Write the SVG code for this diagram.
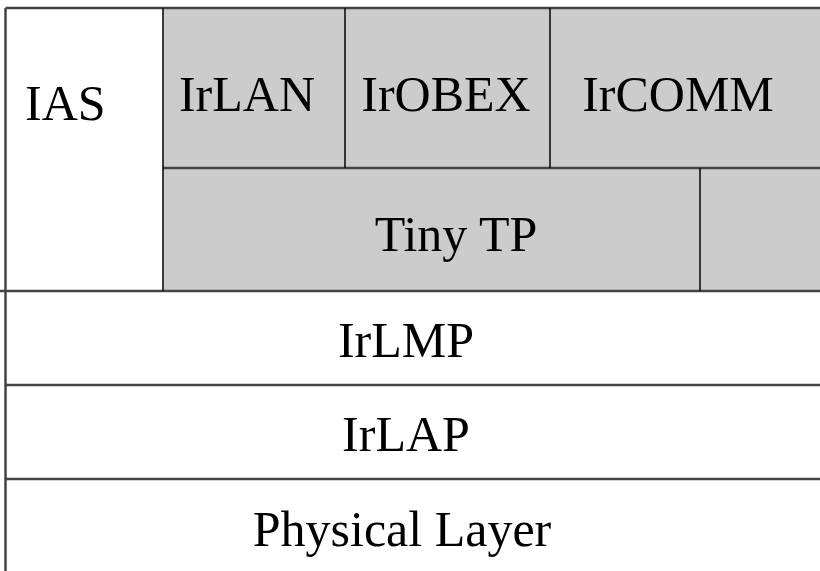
<svg xmlns="http://www.w3.org/2000/svg" width="820" height="571" viewBox="0 0 820 571">
  <style>
    .lbl { font-family: "Liberation Serif", "Times New Roman", serif; font-size: 50px; fill: #000; }
    .mid { text-anchor: middle; }
    .shade { fill: #cccccc; }
    .hline { stroke: #444; stroke-width: 2.5; fill: none; }
    .vline { stroke: #111; stroke-width: 1.6; fill: none; }
  </style>
  <rect x="0" y="0" width="820" height="571" fill="#fff"/>

  <!-- protocol stack layers -->
  <g id="ias">
    <rect x="5.5" y="8" width="157.5" height="283" fill="#fff"/>
    <text class="lbl" x="25" y="120">IAS</text>
  </g>
  <g id="irlan">
    <rect class="shade" x="163" y="8" width="182" height="160"/>
    <text class="lbl mid" x="247" y="111">IrLAN</text>
  </g>
  <g id="irobex">
    <rect class="shade" x="345" y="8" width="205" height="160"/>
    <text class="lbl mid" x="446" y="111">IrOBEX</text>
  </g>
  <g id="ircomm">
    <rect class="shade" x="550" y="8" width="270" height="160"/>
    <text class="lbl mid" x="678" y="111">IrCOMM</text>
  </g>
  <g id="tinytp">
    <rect class="shade" x="163" y="168" width="537" height="123"/>
    <text class="lbl mid" x="456" y="251">Tiny TP</text>
  </g>
  <g id="extra">
    <rect class="shade" x="700" y="168" width="120" height="123"/>
  </g>
  <g id="irlmp">
    <rect x="5.5" y="291" width="814.5" height="94" fill="#fff"/>
    <text class="lbl mid" x="406" y="357">IrLMP</text>
  </g>
  <g id="irlap">
    <rect x="5.5" y="385" width="814.5" height="94" fill="#fff"/>
    <text class="lbl mid" x="406" y="451">IrLAP</text>
  </g>
  <g id="physical">
    <rect x="5.5" y="479" width="814.5" height="92" fill="#fff"/>
    <text class="lbl mid" x="402" y="546">Physical Layer</text>
  </g>

  <!-- dividing rules -->
  <g id="rules">
    <line class="hline" x1="5.5" y1="8" x2="820" y2="8"/>
    <line class="hline" x1="5.5" y1="8" x2="5.5" y2="571"/>
    <line class="hline" x1="163" y1="168" x2="820" y2="168"/>
    <line class="hline" x1="0" y1="291" x2="820" y2="291"/>
    <line class="hline" x1="5.5" y1="385" x2="820" y2="385"/>
    <line class="hline" x1="5.5" y1="479" x2="820" y2="479"/>
    <line class="vline" x1="163" y1="8" x2="163" y2="291"/>
    <line class="vline" x1="345" y1="8" x2="345" y2="168"/>
    <line class="vline" x1="550" y1="8" x2="550" y2="168"/>
    <line class="vline" x1="700" y1="168" x2="700" y2="291"/>
  </g>
</svg>
